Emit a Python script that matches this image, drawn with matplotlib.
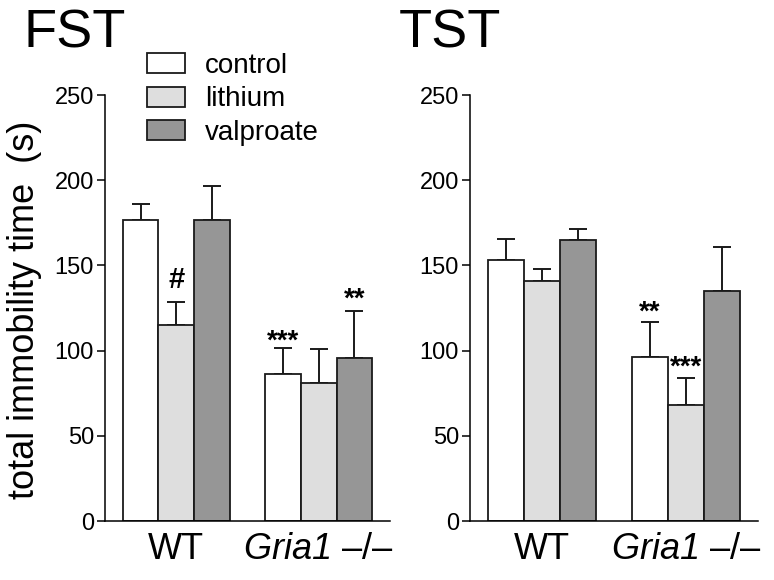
import numpy as np
import matplotlib
matplotlib.use("Agg")
import matplotlib.pyplot as plt

plt.rcParams['font.family'] = ['Liberation Sans', 'DejaVu Sans']
# math text only used for the italic gene name
plt.rcParams['mathtext.fontset'] = 'custom'
plt.rcParams['mathtext.rm'] = 'Liberation Sans:italic'
plt.rcParams['mathtext.it'] = 'Liberation Sans:italic'

# data
groups = ['WT', r'$\mathrm{Gria1}$ –/–']
treatments = ['control', 'lithium', 'valproate']
colors = ['#ffffff', '#dedede', '#969696']

fst_mean = {'control': [176.5, 86.5], 'lithium': [115.2, 80.8], 'valproate': [176.5, 95.8]}
fst_err = {'control': [9.4, 15.0], 'lithium': [13.5, 20.1], 'valproate': [20.3, 27.2]}
tst_mean = {'control': [153.2, 96.2], 'lithium': [140.8, 68.3], 'valproate': [164.9, 134.8]}
tst_err = {'control': [12.1, 20.6], 'lithium': [7.0, 15.4], 'valproate': [6.3, 25.8]}

# significance marks: (group, treatment index, label, y of baseline)
fst_marks = [(0, 1, '#', 137), (1, 0, '***', 101), (1, 2, '**', 126)]
tst_marks = [(1, 0, '**', 118), (1, 1, '***', 86)]

fig = plt.figure(figsize=(7.74, 5.80), dpi=100)
ax1 = fig.add_axes([0.1357, 0.1017, 0.3682, 0.7345])
ax2 = fig.add_axes([0.6072, 0.1017, 0.3720, 0.7345])

group_x = np.array([1, 5])

def draw(ax, means, errs, marks):
    handles = []
    for k, t in enumerate(treatments):
        x = group_x + (k - 1)
        m = np.array(means[t])
        e = np.array(errs[t])
        b = ax.bar(x, m, width=1.0, color=colors[k], edgecolor='#1a1a1a',
                   linewidth=1.3, label=t, zorder=2)
        ax.errorbar(x, m, yerr=[np.zeros_like(e), e], fmt='none', ecolor='#1a1a1a',
                    elinewidth=1.4, capsize=6.5, capthick=1.4, zorder=1)
        handles.append(b)
    for g, k, s, y in marks:
        ax.text(group_x[g] + (k - 1), y, s, ha='center', va='baseline',
                fontsize=20 if s != '#' else 21, fontweight='bold')
    ax.set_xlim(-1, 7)
    ax.set_ylim(0, 250)
    ax.set_yticks(np.arange(0, 251, 50))
    ax.set_xticks(group_x)
    ax.set_xticklabels(groups, fontsize=26)
    ax.tick_params(axis='x', length=0, pad=8)
    ax.tick_params(axis='y', length=6, width=1.1, labelsize=17, pad=2)
    ax.spines['top'].set_visible(False)
    ax.spines['right'].set_visible(False)
    ax.spines['left'].set_linewidth(1.1)
    ax.spines['bottom'].set_linewidth(1.1)
    return handles

h = draw(ax1, fst_mean, fst_err, fst_marks)
draw(ax2, tst_mean, tst_err, tst_marks)

ax1.set_ylabel('total immobility time  (s)', fontsize=26)
ax1.yaxis.set_label_coords(-0.221, 0.495)

fig.text(24/774, 1 - 48/580, 'FST', fontsize=39, va='baseline')
fig.text(399/774, 1 - 48/580, 'TST', fontsize=39, va='baseline')

fig.legend(handles=h, labels=treatments, loc='upper left',
           bbox_to_anchor=(147/774, 1 - 53/580), frameon=False, fontsize=20,
           handlelength=1.37, handleheight=0.72, handletextpad=0.72,
           labelspacing=0.27, borderpad=0, borderaxespad=0)

plt.savefig('out.png', dpi=100)
